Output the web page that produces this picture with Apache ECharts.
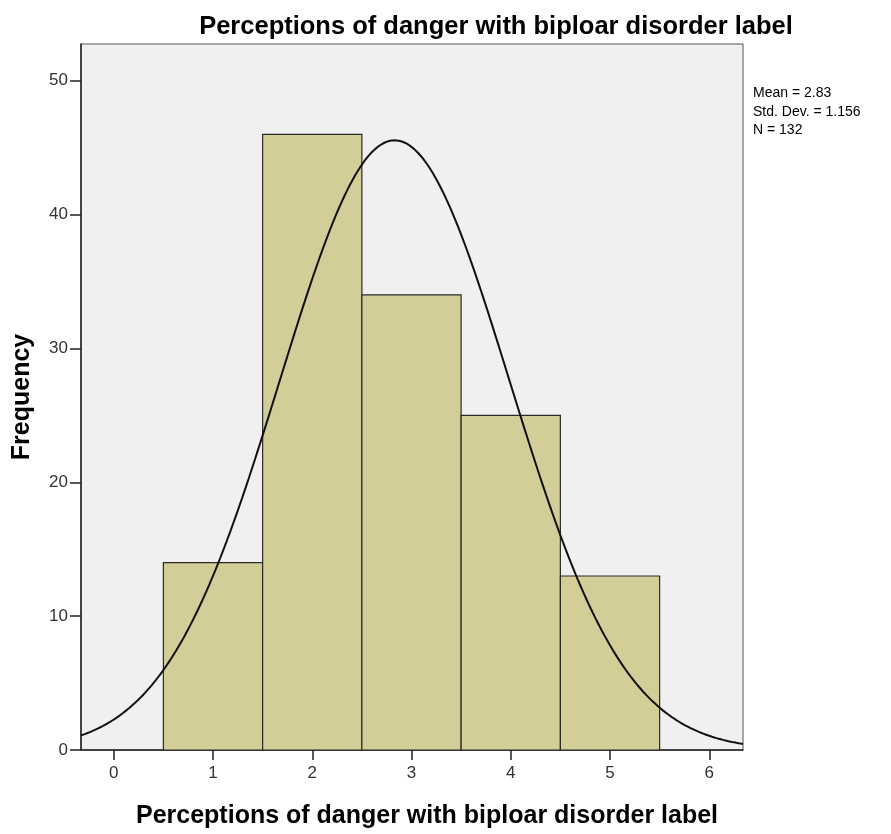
<!DOCTYPE html>
<html>
<head>
<meta charset="utf-8">
<script src="https://cdn.jsdelivr.net/npm/echarts@6/dist/echarts.min.js"></script>
<style>
  html, body { margin: 0; padding: 0; background: #fff; }
  #chart { width: 891px; height: 834px; }
</style>
</head>
<body>
<div id="chart"></div>
<script>
// histogram bins (bin centres) and counts
const binCenters = [1, 2, 3, 4, 5];
const counts = [14, 46, 34, 25, 13];
const binWidth = 1;

// summary stats printed next to the chart
const mean = 2.83;
const stdDev = 1.156;
const total = 132;

const xTicks = [0, 1, 2, 3, 4, 5, 6];
const yTicks = [0, 10, 20, 30, 40, 50];

const xMin = -0.33, xMax = 6.34;
const yMax = 52.75;

const barData = binCenters.map(function (c, i) {
    return [c - binWidth / 2, c + binWidth / 2, counts[i]];
});

// normal curve fitted from mean / std dev / N, as SPSS draws it
const curve = [];
for (let k = 0; k <= 300; k++) {
    const x = xMin + (xMax - xMin) * k / 300;
    const z = (x - mean) / stdDev;
    const y = total * binWidth * Math.exp(-0.5 * z * z) / (stdDev * Math.sqrt(2 * Math.PI));
    curve.push([x, y]);
}

const font = 'Arial, "Liberation Sans", sans-serif';

const chart = echarts.init(document.getElementById('chart'));
chart.setOption({
    animation: false,
    title: {
        text: 'Perceptions of danger with biploar disorder label',
        left: 491,
        textAlign: 'center',
        top: 9,
        textStyle: { fontFamily: font, fontSize: 25.5, fontWeight: 'bold', color: '#000' }
    },
    graphic: [{
        type: 'text',
        left: 753,
        top: 84,
        style: {
            text: 'Mean = ' + mean + '\nStd. Dev. = ' + stdDev + '\nN = ' + total,
            font: '14px ' + font,
            lineHeight: 18.5,
            fill: '#000'
        }
    }],
    grid: {
        left: 81,
        right: 148,
        top: 44,
        bottom: 84,
        outerBoundsMode: 'none',
        show: true,
        backgroundColor: '#f0f0f0',
        borderColor: '#555',
        borderWidth: 1
    },
    xAxis: {
        type: 'value',
        min: xMin,
        max: xMax,
        name: 'Perceptions of danger with biploar disorder label',
        nameLocation: 'middle',
        nameGap: 54,
        nameTextStyle: { fontFamily: font, fontSize: 25, fontWeight: 'bold', color: '#000', padding: [0, 0, 0, 30] },
        splitLine: { show: false },
        axisLine: { onZero: false, lineStyle: { color: '#222', width: 1.5 } },
        axisTick: { customValues: xTicks, length: 10, lineStyle: { color: '#222', width: 1.5 } },
        axisLabel: { customValues: xTicks, fontFamily: font, fontSize: 17, color: '#333', margin: 15 }
    },
    yAxis: {
        type: 'value',
        min: 0,
        max: yMax,
        name: 'Frequency',
        nameLocation: 'middle',
        nameGap: 46,
        nameRotate: 90,
        nameTextStyle: { fontFamily: font, fontSize: 25, fontWeight: 'bold', color: '#000' },
        splitLine: { show: false },
        axisLine: { show: true, onZero: false, lineStyle: { color: '#222', width: 1.5 } },
        axisTick: { show: true, customValues: yTicks, length: 11, lineStyle: { color: '#222', width: 1.5 } },
        axisLabel: { customValues: yTicks, fontFamily: font, fontSize: 17, color: '#333', margin: 13 }
    },
    series: [{
        type: 'custom',
        data: barData,
        encode: { x: [0, 1], y: 2 },
        renderItem: function (params, api) {
            const p0 = api.coord([api.value(0), api.value(2)]);
            const p1 = api.coord([api.value(1), 0]);
            return {
                type: 'rect',
                shape: { x: p0[0], y: p0[1], width: p1[0] - p0[0], height: p1[1] - p0[1] },
                style: { fill: '#d3ce97', stroke: '#2a2a2a', lineWidth: 1.2 }
            };
        }
    }, {
        type: 'line',
        data: curve,
        showSymbol: false,
        smooth: false,
        lineStyle: { color: '#111', width: 2 },
        z: 5
    }]
});
</script>
</body>
</html>
